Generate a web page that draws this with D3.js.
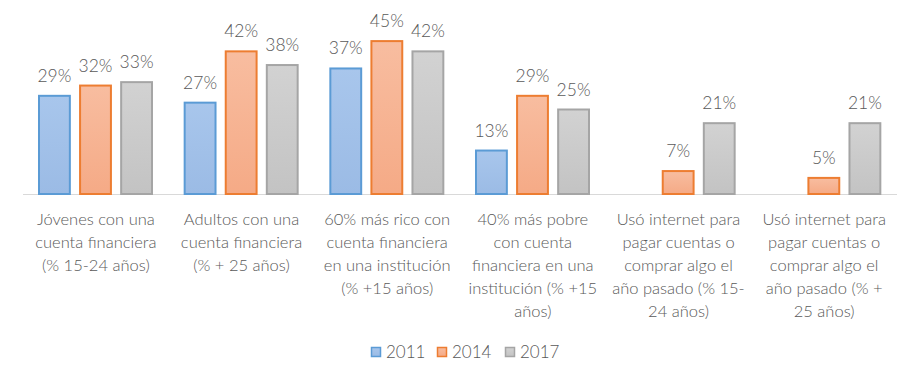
<!DOCTYPE html>
<html><head><meta charset="utf-8">
<script src="https://cdn.jsdelivr.net/npm/d3@7"></script>
<style>body{margin:0;background:#fff;} svg{display:block;}</style>
</head><body>
<svg id="c" width="921" height="384"></svg>
<script>
const categories = [
  ["Jóvenes con una","cuenta financiera","(% 15-24 años)"],
  ["Adultos con una","cuenta financiera","(% + 25 años)"],
  ["60% más rico con","cuenta financiera","en una institución","(% +15 años)"],
  ["40% más pobre","con cuenta","financiera en una","institución (% +15","años)"],
  ["Usó internet para","pagar cuentas o","comprar algo el","año pasado (% 15-","24 años)"],
  ["Usó internet para","pagar cuentas o","comprar algo el","año pasado (% +","25 años)"]
];
const seriesNames = ["2011","2014","2017"];
const v2011 = [29, 27, 37, 13, null, null];
const v2014 = [32, 42, 45, 29, 7, 5];
const v2017 = [33, 38, 42, 25, 21, 21];
const seriesValues = [v2011, v2014, v2017];
const strokes = ["#5b9bd5","#ed7d31","#a5a5a5"];
const fillTop = ["#a8c6ec","#f8bda0","#d2d2d2"];
const fillBot = ["#9bbbe5","#f5aa86","#c3c3c3"];

const svg = d3.select("#c");
const defs = svg.append("defs");
seriesNames.forEach((s,i)=>{
  const g = defs.append("linearGradient").attr("id","g"+i).attr("x1",0).attr("y1",0).attr("x2",0).attr("y2",1);
  g.append("stop").attr("offset","0%").attr("stop-color",fillTop[i]);
  g.append("stop").attr("offset","100%").attr("stop-color",fillBot[i]);
});

const font = "Lato, 'Open Sans', sans-serif";
const fw = 300;
const txt = "#595959";
const idx = d3.range(categories.length);
const x0 = d3.scaleBand().domain(idx).range([23, 897]).padding(0);
const x1 = d3.scaleBand().domain(d3.range(3)).range([15, 130]).paddingInner(0.2).paddingOuter(0);
const y = d3.scaleLinear().domain([0, 50]).range([194, 23]);

svg.append("line").attr("x1",23).attr("x2",897).attr("y1",y(0)+0.5).attr("y2",y(0)+0.5)
  .attr("stroke","#d9d9d9").attr("stroke-width",1);

const groups = svg.selectAll("g.cat").data(idx).enter().append("g")
  .attr("transform", i=>`translate(${x0(i)},0)`);

seriesValues.forEach((vals, si)=>{
  groups.filter(i=>vals[i]!=null).append("rect")
    .attr("x", x1(si)+1).attr("width", x1.bandwidth()-2)
    .attr("y", i=>y(vals[i])+1).attr("height", i=>y(0)-y(vals[i])-1)
    .attr("fill","url(#g"+si+")").attr("stroke",strokes[si]).attr("stroke-width",2);
  groups.filter(i=>vals[i]!=null).append("text")
    .attr("x", x1(si)+x1.bandwidth()/2).attr("y", i=>y(vals[i])-13)
    .attr("text-anchor","middle").attr("font-family",font).attr("font-weight",fw).attr("font-size","17.5px")
    .attr("fill",txt).text(i=>vals[i]+"%");
});

groups.append("text").attr("text-anchor","middle").attr("font-family",font).attr("font-weight",fw).attr("font-size","16.5px").attr("fill",txt)
  .each(function(i){
    const t = d3.select(this);
    categories[i].forEach((line,k)=>{
      t.append("tspan").attr("x", x0.bandwidth()/2).attr("y", 225 + k*23).text(line);
    });
  });

const leg = svg.append("g");
const legX = [371, 437, 505];
seriesNames.forEach((s,i)=>{
  leg.append("rect").attr("x",legX[i]+0.5).attr("y",347.5).attr("width",9).attr("height",9)
    .attr("fill","url(#g"+i+")").attr("stroke",strokes[i]).attr("stroke-width",1.5);
  leg.append("text").attr("x",legX[i]+15).attr("y",358).attr("font-family",font).attr("font-weight",fw).attr("font-size","17px")
    .attr("fill",txt).text(s);
});
</script>
</body></html>
